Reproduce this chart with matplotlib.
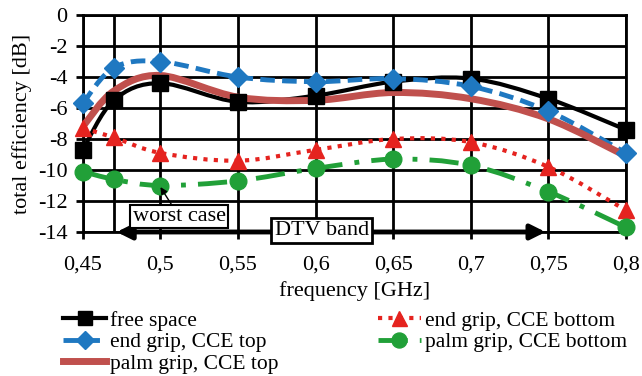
import matplotlib.pyplot as plt
from matplotlib.path import Path
from matplotlib.patches import PathPatch
from matplotlib.lines import Line2D
import numpy as np

plt.rcParams['font.family'] = ['Liberation Serif', 'DejaVu Serif']
plt.rcParams['axes.unicode_minus'] = False

# frequency points [GHz]
freq = [0.45, 0.47, 0.5, 0.55, 0.6, 0.65, 0.7, 0.75, 0.8]

free_space = [-8.7, -5.5, -4.4, -5.6, -5.2, -4.3, -4.1, -5.4, -7.4]
end_top = [-5.7, -3.4, -3.0, -4.0, -4.3, -4.1, -4.6, -6.2, -8.9]
palm_top = [-7.2, -4.9, -3.9, -5.3, -5.5, -5.0, -5.4, -6.7, -9.1]
end_bottom = [-7.3, -7.9, -8.9, -9.4, -8.7, -8.0, -8.2, -9.8, -12.6]
palm_bottom = [-10.1, -10.6, -11.0, -10.7, -9.9, -9.3, -9.7, -11.4, -13.7]

labels = ["free space", "end grip, CCE top", "palm grip, CCE top",
          "end grip, CCE bottom", "palm grip, CCE bottom"]
x_ticks = [0.45, 0.5, 0.55, 0.6, 0.65, 0.7, 0.75, 0.8]
x_ticklabels = ["0,45", "0,5", "0,55", "0,6", "0,65", "0,7", "0,75", "0,8"]
y_ticks = [0, -2, -4, -6, -8, -10, -12, -14]


def smooth_path(xs, ys):
    # Excel-like smoothed line as a cubic Bezier path through the data points
    pts = np.column_stack([xs, ys])
    verts = [pts[0]]
    codes = [Path.MOVETO]
    n = len(pts)
    for i in range(n - 1):
        p0 = pts[i - 1] if i > 0 else pts[i]
        p1 = pts[i]
        p2 = pts[i + 1]
        p3 = pts[i + 2] if i + 2 < n else pts[i + 1]
        c1 = p1 + (p2 - p0) / 6
        c2 = p2 - (p3 - p1) / 6
        verts += [c1, c2, p2]
        codes += [Path.CURVE4] * 3
    return Path(verts, codes)


fig = plt.figure(figsize=(6.42, 3.76), dpi=100)
ax = fig.add_axes([0.129, 0.383, 0.846, 0.577])

styles = [
    dict(color="black", lw=3, ls="-", marker="s", ms=11, series=free_space, show_marker=True),
    dict(color="#1f78c1", lw=3.5, ls=(0, (3, 1.5)), marker="D", ms=10, series=end_top, show_marker=True),
    dict(color="#c0504d", lw=5, ls="-", marker=None, ms=0, series=palm_top, show_marker=False),
    dict(color="#e5231f", lw=3, ls=(0, (1, 1.5)), marker="^", ms=12, series=end_bottom, show_marker=True),
    dict(color="#21a038", lw=3.5, ls=(0, (6, 2.5, 1, 2.5)), marker="o", ms=12, series=palm_bottom, show_marker=True),
]

handles = []
for st, lab in zip(styles, labels):
    patch = PathPatch(smooth_path(freq, st["series"]), fill=False, edgecolor=st["color"],
                      lw=st["lw"], linestyle=st["ls"], capstyle="butt", zorder=3)
    ax.add_patch(patch)
    if st["show_marker"]:
        ax.plot(freq, st["series"], linestyle="none", marker=st["marker"], ms=st["ms"],
                color=st["color"], zorder=4, clip_on=False)
    handles.append(Line2D([], [], color=st["color"], lw=st["lw"], ls=st["ls"],
                          marker=st["marker"], ms=st["ms"] * 0.9))

ax.set_xlim(0.45, 0.8)
ax.set_ylim(-14, 0)
ax.set_xticks(x_ticks)
ax.set_xticklabels(x_ticklabels)
ax.set_yticks(y_ticks)
ax.grid(True, color="black", lw=2)
ax.set_axisbelow(True)
for s in ax.spines.values():
    s.set_linewidth(2)
ax.tick_params(labelsize=16, length=5, width=2)
ax.tick_params(axis="x", pad=12)
ax.tick_params(axis="y", pad=6)
ax.set_xlabel("frequency [GHz]", fontsize=16, labelpad=5)
ax.set_ylabel("total efficiency [dB]", fontsize=16, labelpad=4)

# DTV band marker
ax.axvline(0.47, color="black", lw=2, zorder=1)
ax.annotate("", xy=(0.47, -14), xytext=(0.75, -14),
            arrowprops=dict(arrowstyle="<|-|>", color="black", lw=3.5, mutation_scale=22),
            annotation_clip=False, zorder=5)
ax.text(0.604, -13.9, "DTV band", ha="center", va="center", fontsize=16, zorder=6,
        bbox=dict(boxstyle="square,pad=0.15", fc="white", ec="black", lw=2))

# worst case note
ax.annotate("worst case", xy=(0.5, -11.1), xytext=(0.512, -13.0),
            ha="center", va="center", fontsize=16, zorder=6,
            bbox=dict(boxstyle="square,pad=0.1", fc="white", ec="black", lw=1.5),
            arrowprops=dict(arrowstyle="-|>", color="black", lw=1, mutation_scale=10,
                            shrinkA=0, shrinkB=0))

fig.legend(handles, labels, loc="lower left", bbox_to_anchor=(0.078, -0.028), ncol=2,
           frameon=False, fontsize=15.5, handlelength=2.0, handletextpad=0.2,
           columnspacing=4.6, labelspacing=0.06, borderpad=0.1)

fig.savefig("out.png", dpi=100)
